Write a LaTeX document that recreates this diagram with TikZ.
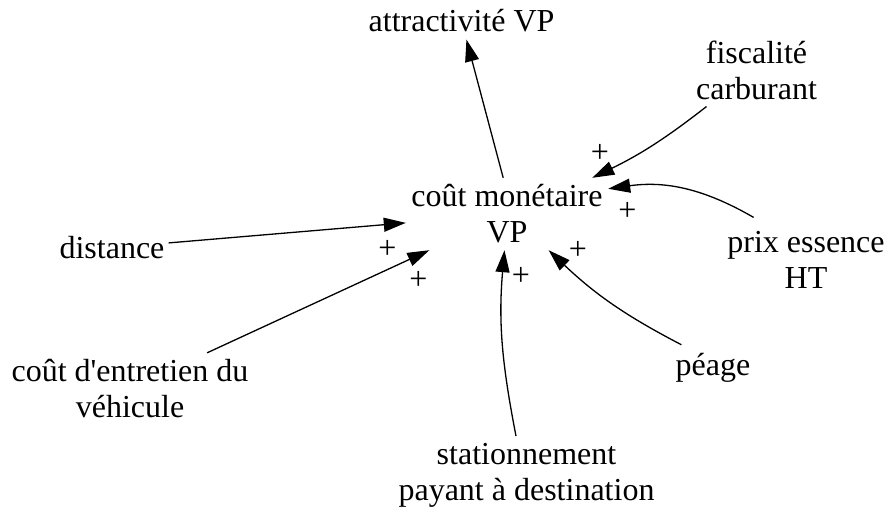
\documentclass[tikz,border=0pt]{standalone}
\usepackage{fontspec}
\setmainfont{Liberation Serif}
\usetikzlibrary{arrows.meta}
\begin{document}
\begin{tikzpicture}[x=1pt,y=1pt,
  var/.style={font=\fontsize{32}{36}\selectfont, align=center, inner sep=#1},
  var/.default=5pt,
  sign/.style={font=\fontsize{32}{36}\selectfont, inner sep=0pt},
  link/.style={-{Triangle[length=22pt,width=14pt]}, line width=1.3pt},
]
\useasboundingbox (0,0) rectangle (888,-509);

% variables
\node[var=7pt] (attr) at (461.5,-21) {attractivité VP};
\node[var=0pt, minimum width=202pt, minimum height=72pt] (cout) at (507,-214) {coût monétaire\\VP};
\node[var=6.7pt] (fisc) at (756.5,-70.2) {fiscalité\\carburant};
\node[var=13.6pt] (prix) at (806,-259.8) {prix essence\\HT};
\node[var=4pt] (dist) at (112,-247.7) {distance};
\node[var=6.2pt] (entr) at (130,-388.5) {coût d\textquotesingle entretien du\\véhicule};
\node[var=8.2pt] (peage) at (713,-367.7) {péage};
\node[var=7pt] (stat) at (526.5,-475.2) {stationnement\\payant à destination};

% causal links
\draw[link] (cout.96) -- (attr);
\draw[link] (dist) -- (cout.185);
\draw[link] (entr) -- (cout.205);
\draw[link] (stat.105) to[out=101,in=265] (cout.266);
\draw[link] (peage.144) to[bend left=8] (cout.319);
\draw[link] (prix.141.6) to[out=150,in=8] (cout.14.7);
\draw[link] (fisc.216) to[bend left=6] (cout.23.4);

% polarities
\node[sign] (s1) at (387.5,-249) {+};
\node[sign] (s2) at (418.3,-280) {+};
\node[sign] (s3) at (521,-276.7) {+};
\node[sign] (s4) at (578,-250.5) {+};
\node[sign] (s5) at (627.5,-211) {+};
\node[sign] (s6) at (600,-153.3) {+};
\end{tikzpicture}
\end{document}
